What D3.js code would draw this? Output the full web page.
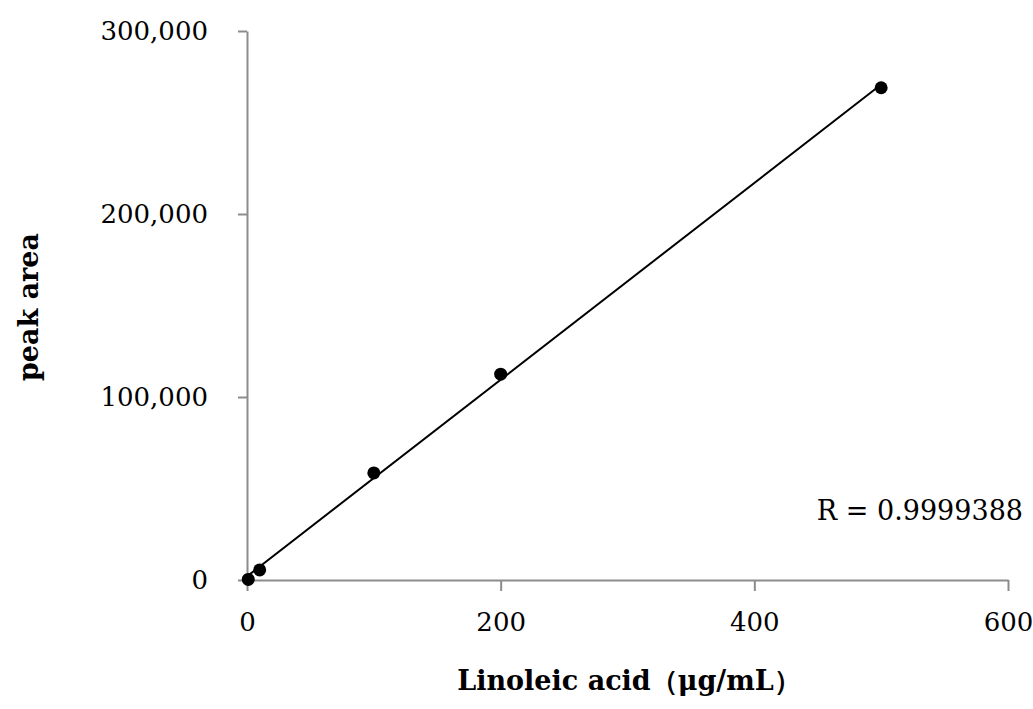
<!DOCTYPE html>
<html>
<head>
<meta charset="utf-8">
<script src="https://cdn.jsdelivr.net/npm/d3@7.9.0/dist/d3.min.js"></script>
<style>
  html, body { margin: 0; padding: 0; background: #fff; }
  svg { display: block; font-family: "DejaVu Serif", "Liberation Serif", serif; }
  .axis path, .axis line { stroke: #8c8c8c; stroke-width: 2; }
  .axis text { fill: #000; font-size: 26px; }
  .title { font-weight: bold; font-size: 27px; }
</style>
</head>
<body>
<div id="chart"></div>
<script>
// ---------------------- Data ----------------------
const concentration = [1, 10, 100, 200, 500];          // µg/mL
const peakArea = [300, 5500, 58500, 112500, 269000];
const xTicks = [0, 200, 400, 600];
const yTicks = [0, 100000, 200000, 300000];
const xLabel = 'Linoleic acid（μg/mL）';
const yLabel = 'peak area';
const rLabel = 'R = 0.9999388';

// ---------------------- Chart ----------------------
const width = 1033;
const height = 709;
const plot = { left: 247, right: 1008, top: 31, bottom: 580 };

const svg = d3.select('#chart')
  .append('svg')
  .attr('width', width)
  .attr('height', height);

const xScale = d3.scaleLinear().domain([0, 600]).range([plot.left, plot.right]);
const yScale = d3.scaleLinear().domain([0, 300000]).range([plot.bottom, plot.top]);

svg.append('g')
  .attr('class', 'axis x-axis')
  .attr('transform', `translate(0,${plot.bottom})`)
  .call(d3.axisBottom(xScale).tickValues(xTicks).tickSize(11).tickSizeOuter(0).tickPadding(22));

svg.append('g')
  .attr('class', 'axis y-axis')
  .attr('transform', `translate(${plot.left},0)`)
  .call(d3.axisLeft(yScale).tickValues(yTicks).tickFormat(d3.format(',')).tickSize(9).tickSizeOuter(0).tickPadding(30));

svg.selectAll('.axis').attr('font-family', null).attr('font-size', null);

// least-squares trendline over the measured range
const pts = concentration.map((x, i) => [x, peakArea[i]]);
const mx = d3.mean(concentration), my = d3.mean(peakArea);
const slope = d3.sum(pts, p => (p[0] - mx) * (p[1] - my)) / d3.sum(pts, p => (p[0] - mx) ** 2);
const intercept = my - slope * mx;
const [x0, x1] = d3.extent(concentration);

svg.append('line')
  .attr('x1', xScale(x0)).attr('y1', yScale(intercept + slope * x0))
  .attr('x2', xScale(x1)).attr('y2', yScale(intercept + slope * x1))
  .attr('stroke', '#000')
  .attr('stroke-width', 2);

svg.append('g')
  .selectAll('circle')
  .data(pts)
  .join('circle')
  .attr('cx', d => xScale(d[0]))
  .attr('cy', d => yScale(d[1]))
  .attr('r', 6.5)
  .attr('fill', '#000');

svg.append('text')
  .attr('x', 1023)
  .attr('y', 520)
  .attr('text-anchor', 'end')
  .attr('font-size', 27)
  .text(rLabel);

svg.append('text')
  .attr('class', 'title')
  .attr('x', 629)
  .attr('y', 690)
  .attr('text-anchor', 'middle')
  .text(xLabel);

svg.append('text')
  .attr('class', 'title')
  .attr('transform', 'translate(38,307) rotate(-90)')
  .attr('text-anchor', 'middle')
  .text(yLabel);
</script>
</body>
</html>
